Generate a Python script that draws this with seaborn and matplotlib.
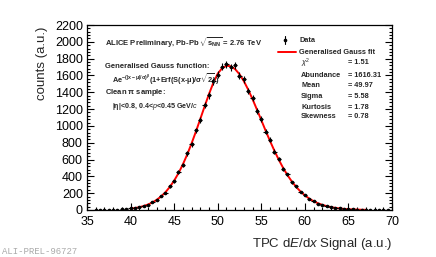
import numpy as np
import pandas as pd
import seaborn as sns
import matplotlib.pyplot as plt
from matplotlib.lines import Line2D
from matplotlib.ticker import MultipleLocator

# data (bin centres, counts, stat. errors)
sig_x = [36.0, 36.5, 37.0, 37.5, 38.0, 38.5, 39.0, 39.5, 40.0, 40.5,
         41.0, 41.5, 42.0, 42.5, 43.0, 43.5, 44.0, 44.5, 45.0, 45.5,
         46.0, 46.5, 47.0, 47.5, 48.0, 48.5, 49.0, 49.5, 50.0, 50.5,
         51.0, 51.5, 52.0, 52.5, 53.0, 53.5, 54.0, 54.5, 55.0, 55.5,
         56.0, 56.5, 57.0, 57.5, 58.0, 58.5, 59.0, 59.5, 60.0, 60.5,
         61.0, 61.5, 62.0, 62.5, 63.0, 63.5, 64.0, 64.5, 65.0, 65.5,
         66.0, 66.5, 67.0, 67.5, 68.0, 68.5, 69.0, 69.5]
counts = [1, 2, 1, 3, 2, 5, 8, 10, 21, 19,
          30, 52, 62, 94, 118, 170, 205, 283, 340, 452,
          531, 672, 781, 950, 1068, 1250, 1362, 1530, 1608, 1702,
          1731, 1698, 1720, 1598, 1555, 1418, 1330, 1180, 1085, 930,
          836, 695, 608, 490, 424, 331, 281, 214, 178, 131,
          108, 77, 64, 44, 36, 23, 19, 12, 10, 6,
          5, 3, 2, 1, 2, 0, 1, 1]
count_err = [1, 1.4, 1, 1.7, 1.4, 2.2, 2.8, 3.2, 4.6, 4.4,
             5.5, 7.2, 7.9, 9.7, 10.9, 13, 14.3, 16.8, 18.4, 21.3,
             23, 25.9, 27.9, 30.8, 32.7, 35.4, 36.9, 39.1, 40.1, 41.3,
             41.6, 41.2, 41.5, 40, 39.4, 37.7, 36.5, 34.4, 32.9, 30.5,
             28.9, 26.4, 24.7, 22.1, 20.6, 18.2, 16.8, 14.6, 13.3, 11.4,
             10.4, 8.8, 8, 6.6, 6, 4.8, 4.4, 3.5, 3.2, 2.4,
             2.2, 1.7, 1.4, 1, 1.4, 0, 1, 1]

# generalised gauss fit curve
fit_x = [40.0, 40.5, 41.0, 41.5, 42.0, 42.5, 43.0, 43.5, 44.0, 44.5,
         45.0, 45.5, 46.0, 46.5, 47.0, 47.5, 48.0, 48.5, 49.0, 49.5,
         50.0, 50.5, 51.0, 51.5, 52.0, 52.5, 53.0, 53.5, 54.0, 54.5,
         55.0, 55.5, 56.0, 56.5, 57.0, 57.5, 58.0, 58.5, 59.0, 59.5,
         60.0, 60.5, 61.0, 61.5, 62.0, 62.5, 63.0, 63.5, 64.0, 64.5,
         65.0, 65.5, 66.0, 66.5, 67.0]
fit_y = [16, 23, 33, 47, 65, 89, 121, 161, 211, 274,
         349, 438, 542, 660, 792, 933, 1082, 1233, 1379, 1513,
         1621, 1686, 1715, 1710, 1675, 1615, 1532, 1431, 1317, 1195,
         1069, 943, 821, 706, 599, 502, 415, 340, 275, 220,
         174, 136, 105, 80, 61, 46, 34, 25, 18, 13,
         9, 7, 5, 3, 2]

par_names = [r"$\chi^2$", "Abundance", "Mean", "Sigma", "Kurtosis", "Skewness"]
par_values = ["1.51", "1616.31", "49.97", "5.58", "1.78", "0.78"]

sns.set_style("ticks")
plt.rcParams['font.family'] = ['Liberation Sans', 'DejaVu Sans']
plt.rcParams['mathtext.fontset'] = 'custom'
plt.rcParams['mathtext.rm'] = 'Liberation Sans'
plt.rcParams['mathtext.it'] = 'Liberation Sans:italic'
plt.rcParams['mathtext.bf'] = 'Liberation Sans:bold'

W, H = 436, 257
fig = plt.figure(figsize=(W / 100, H / 100), dpi=100)
ax = fig.add_axes([87 / W, 1 - 210 / H, (392 - 87) / W, (210 - 25) / H])

df = pd.DataFrame({'x': fit_x, 'y': fit_y})
sns.lineplot(data=df, x='x', y='y', color='red', lw=1.4, ax=ax, zorder=2)
ax.errorbar(sig_x, counts, yerr=count_err, xerr=0.25, fmt='o', ms=1.6,
            color='black', elinewidth=0.8, capsize=0, zorder=3)

ax.set_xlim(35, 70)
ax.set_ylim(0, 2200)
ax.xaxis.set_major_locator(MultipleLocator(5))
ax.xaxis.set_minor_locator(MultipleLocator(1))
ax.yaxis.set_major_locator(MultipleLocator(200))
ax.yaxis.set_minor_locator(MultipleLocator(40))
ax.tick_params(which='both', direction='in', right=True, top=False,
               width=0.8, labelsize=9, colors='black')
ax.tick_params(axis='y', pad=3)
ax.tick_params(axis='x', pad=4)
ax.tick_params(which='major', length=5)
ax.tick_params(which='minor', length=2.5)
for s in ax.spines.values():
    s.set_linewidth(0.9)
    s.set_color('black')
ax.set_xlabel('')
ax.set_ylabel('')

fig.text(392 / W, 1 - 244 / H, r"TPC d$E$/d$x$ Signal (a.u.)", ha='right',
         va='center', fontsize=9.5)
fig.text(42 / W, 1 - 27 / H, "counts (a.u.)", rotation=90, ha='center',
         va='top', fontsize=9.5)
fig.text(2 / W, 1 - 252 / H, "ALI-PREL-96727", ha='left', va='center',
         fontsize=6.5, color='#aaaaaa', family='Liberation Mono')

# left info text
kw = dict(fontsize=5.5, fontweight='bold', va='center', ha='left')
fig.text(105 / W, 1 - 43 / H,
         r"ALICE Preliminary, Pb-Pb $\mathbf{\sqrt{s_{NN}}}$ = 2.76 TeV", **kw)
fig.text(105 / W, 1 - 66 / H, "Generalised Gauss function:", **kw)
fig.text(112 / W, 1 - 79 / H,
         r"Ae$^{\mathbf{-(|x-\mu|/\sigma)^{\beta}}}$(1+Erf(S(x-$\mathbf{\mu}$)/$\mathbf{\sigma\sqrt{2}}$))",
         **dict(kw, fontsize=5.3))
fig.text(105 / W, 1 - 92 / H, r"Clean $\mathbf{\pi}$ sample:", **kw)
fig.text(112 / W, 1 - 106 / H,
         r"|$\mathbf{\eta}$|<0.8, 0.4<$p$<0.45 GeV/$c$", **dict(kw, fontsize=5.1))

# legend
kl = dict(kw, fontsize=5.3)
fig.add_artist(Line2D([285 / W, 285 / W], [1 - 36 / H, 1 - 44 / H],
                      color='black', lw=0.8))
fig.add_artist(Line2D([285 / W], [1 - 40 / H], marker='o', ms=1.6,
                      color='black'))
fig.text(299 / W, 1 - 40 / H, "Data", **kl)
fig.add_artist(Line2D([278 / W, 296 / W], [1 - 52 / H, 1 - 52 / H],
                      color='red', lw=1.4))
fig.text(299 / W, 1 - 52 / H, "Generalised Gauss fit", **kl)
for i, (name, val) in enumerate(zip(par_names, par_values)):
    y = [63, 75, 86, 97, 107, 117][i]
    fig.text(301 / W, 1 - y / H, name, **kl)
    fig.text(348 / W, 1 - y / H, "= " + val, **kl)

fig.savefig("out.png", dpi=100)
